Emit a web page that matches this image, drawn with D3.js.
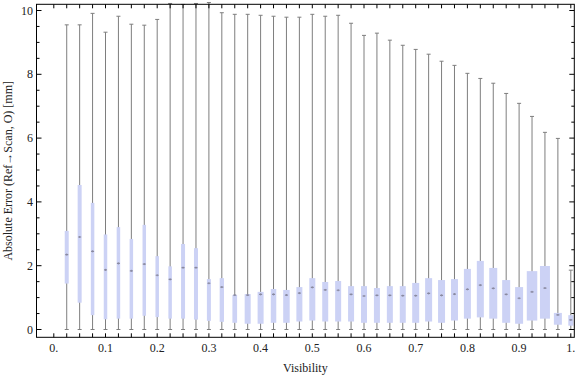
<!DOCTYPE html>
<html>
<head>
<meta charset="utf-8">
<script src="https://cdn.jsdelivr.net/npm/d3@7"></script>
<style>
  html, body { margin: 0; padding: 0; background: #fff; }
  svg { display: block; }
  text { font-family: "Liberation Serif", "Times New Roman", serif; fill: #222; }
</style>
</head>
<body>
<svg id="chart" width="576" height="377"></svg>
<script>
// ---- data ----
const visibility = d3.range(1, 41).map(k => +(k * 0.025).toFixed(3));
const whiskerMin = [0,0,0,0,0,0,0,0,0,0, 0,0,0,0,0,0,0,0,0,0, 0,0,0,0,0,0,0,0,0,0, 0,0,0,0,0,0,0,0,0,0];
const q1 = [1.44,0.84,0.45,0.32,0.34,0.34,0.43,0.39,0.34,0.34, 0.31,0.27,0.24,0.21,0.18,0.18,0.21,0.21,0.25,0.28,
            0.25,0.25,0.25,0.21,0.21,0.21,0.21,0.21,0.25,0.21, 0.28,0.34,0.38,0.34,0.21,0.18,0.28,0.34,0.15,0.12];
const median = [2.35,2.90,2.45,1.87,2.07,1.84,2.05,1.70,1.57,1.94, 1.94,1.45,1.33,1.08,1.08,1.10,1.10,1.08,1.14,1.32,
                1.24,1.23,1.10,1.05,1.07,1.07,1.06,1.06,1.13,1.07, 1.11,1.26,1.39,1.29,1.10,0.98,1.18,1.30,0.46,0.30];
const q3 = [3.09,4.53,3.97,2.98,3.21,2.84,3.28,2.30,1.98,2.68, 2.55,1.58,1.61,1.08,1.11,1.18,1.27,1.24,1.33,1.61,
            1.49,1.52,1.36,1.36,1.30,1.36,1.36,1.46,1.61,1.55, 1.58,1.90,2.15,1.93,1.55,1.33,1.83,1.99,0.52,0.45];
const whiskerMax = [9.55,9.55,9.91,9.32,9.82,9.57,9.54,9.72,10.22,10.19, 10.22,10.25,9.93,9.88,9.88,9.85,9.82,9.79,9.79,9.88,
                    9.82,9.85,9.60,9.22,9.29,9.07,8.91,8.78,8.63,8.41, 8.28,8.03,7.87,7.72,7.40,7.09,6.68,6.18,5.99,1.86];
// relative box width (sample weight)
const relWidth = [4,4,3.5,3.5,3.5,3.5,3.5,3.5,3.5,4, 4,4,4.3,4.7,6,6,5.5,6.5,6,6,
                  6,6,6,6,6,6,6,7,7,7, 7,7,7,8,8,8,10.5,10,8,5];
const xTickValues = d3.range(0, 41).map(k => +(k * 0.025).toFixed(3));
const xLabelValues = [0,0.1,0.2,0.3,0.4,0.5,0.6,0.7,0.8,0.9,1];
const xLabelText = ["0.","0.1","0.2","0.3","0.4","0.5","0.6","0.7","0.8","0.9","1."];
const yMajor = [0,2,4,6,8,10];
const yMinor = d3.range(0, 21).map(k => k * 0.5).filter(v => v % 2 !== 0);
const xTitle = "Visibility";
const yTitle = "Absolute Error (Ref\u2192Scan, O) [mm]";

// ---- layout ----
const svg = d3.select("#chart");
const frame = { left: 36.5, right: 574.3, top: 4.3, bottom: 337.3 };
const x = d3.scaleLinear().domain([0, 1]).range([53.8, 570.8]);
const y = d3.scaleLinear().domain([0, 10]).range([329.5, 10.5]);
const w = d3.scaleLinear().domain([0, 1]).range([0, 1]); // px per width unit

const data = visibility.map((v, i) => ({
  v, lo: whiskerMin[i], q1: q1[i], med: median[i], q3: q3[i], hi: whiskerMax[i], wd: w(relWidth[i])
}));

svg.append("defs").append("clipPath").attr("id", "clip")
  .append("rect")
  .attr("x", frame.left).attr("y", 0)
  .attr("width", frame.right - frame.left).attr("height", frame.bottom);

const plot = svg.append("g").attr("clip-path", "url(#clip)");
const whiskColor = "#7e7e7e";
const capHalf = 2;

// whiskers
const g = plot.selectAll("g.item").data(data).join("g").attr("class", "item");
g.append("line")
  .attr("x1", d => x(d.v)).attr("x2", d => x(d.v))
  .attr("y1", d => y(d.lo)).attr("y2", d => y(d.hi))
  .attr("stroke", whiskColor).attr("stroke-width", 1);
g.append("line")
  .attr("x1", d => x(d.v) - capHalf).attr("x2", d => x(d.v) + capHalf)
  .attr("y1", d => y(d.hi)).attr("y2", d => y(d.hi))
  .attr("stroke", whiskColor).attr("stroke-width", 1);
g.append("line")
  .attr("x1", d => x(d.v) - capHalf).attr("x2", d => x(d.v) + capHalf)
  .attr("y1", d => y(d.lo)).attr("y2", d => y(d.lo))
  .attr("stroke", whiskColor).attr("stroke-width", 1);
// boxes
g.append("rect")
  .attr("x", d => x(d.v) - d.wd / 2)
  .attr("width", d => d.wd)
  .attr("y", d => y(d.q3))
  .attr("height", d => y(d.q1) - y(d.q3))
  .attr("fill", "#ccd2f5");
// median marks
g.append("line")
  .attr("x1", d => x(d.v) - 1.5).attr("x2", d => x(d.v) + 1.5)
  .attr("y1", d => y(d.med)).attr("y2", d => y(d.med))
  .attr("stroke", "#8a8aa0").attr("stroke-width", 1.2);
g.append("line")
  .attr("x1", d => x(d.v)).attr("x2", d => x(d.v))
  .attr("y1", d => y(d.med) - 1).attr("y2", d => y(d.med) + 1)
  .attr("stroke", "#8a8aa0").attr("stroke-width", 1);

// frame
svg.append("rect")
  .attr("x", frame.left).attr("y", frame.top)
  .attr("width", frame.right - frame.left).attr("height", frame.bottom - frame.top)
  .attr("fill", "none").attr("stroke", "#000").attr("stroke-width", 1);

// x ticks (bottom & top)
const axG = svg.append("g");
axG.selectAll("line.xb").data(xTickValues).join("line")
  .attr("x1", d => x(d)).attr("x2", d => x(d))
  .attr("y1", frame.bottom).attr("y2", frame.bottom - 4)
  .attr("stroke", "#000");
axG.selectAll("line.xt").data(xTickValues).join("line")
  .attr("x1", d => x(d)).attr("x2", d => x(d))
  .attr("y1", frame.top).attr("y2", frame.top + 4)
  .attr("stroke", "#000");
axG.selectAll("text.xl").data(xLabelValues).join("text")
  .attr("x", (d) => x(d)).attr("y", 352)
  .attr("text-anchor", "middle").attr("font-size", 12)
  .text((d, i) => xLabelText[i]);

// y ticks (left & right)
const yTicks = yMajor.map(v => ({ v, len: 5 })).concat(yMinor.map(v => ({ v, len: 3 })));
axG.selectAll("line.yl").data(yTicks).join("line")
  .attr("x1", frame.left).attr("x2", d => frame.left + d.len)
  .attr("y1", d => y(d.v)).attr("y2", d => y(d.v))
  .attr("stroke", "#000");
axG.selectAll("line.yr").data(yTicks).join("line")
  .attr("x1", frame.right).attr("x2", d => frame.right - d.len)
  .attr("y1", d => y(d.v)).attr("y2", d => y(d.v))
  .attr("stroke", "#000");
axG.selectAll("text.yl").data(yMajor).join("text")
  .attr("x", 33).attr("y", d => y(d) + 4)
  .attr("text-anchor", "end").attr("font-size", 12)
  .text(d => d);

// titles
svg.append("text")
  .attr("x", (frame.left + frame.right) / 2).attr("y", 372)
  .attr("text-anchor", "middle").attr("font-size", 12)
  .text(xTitle);
svg.append("text")
  .attr("transform", `translate(12,${(frame.top + frame.bottom) / 2}) rotate(-90)`)
  .attr("text-anchor", "middle").attr("font-size", 12)
  .text(yTitle);
</script>
</body>
</html>
